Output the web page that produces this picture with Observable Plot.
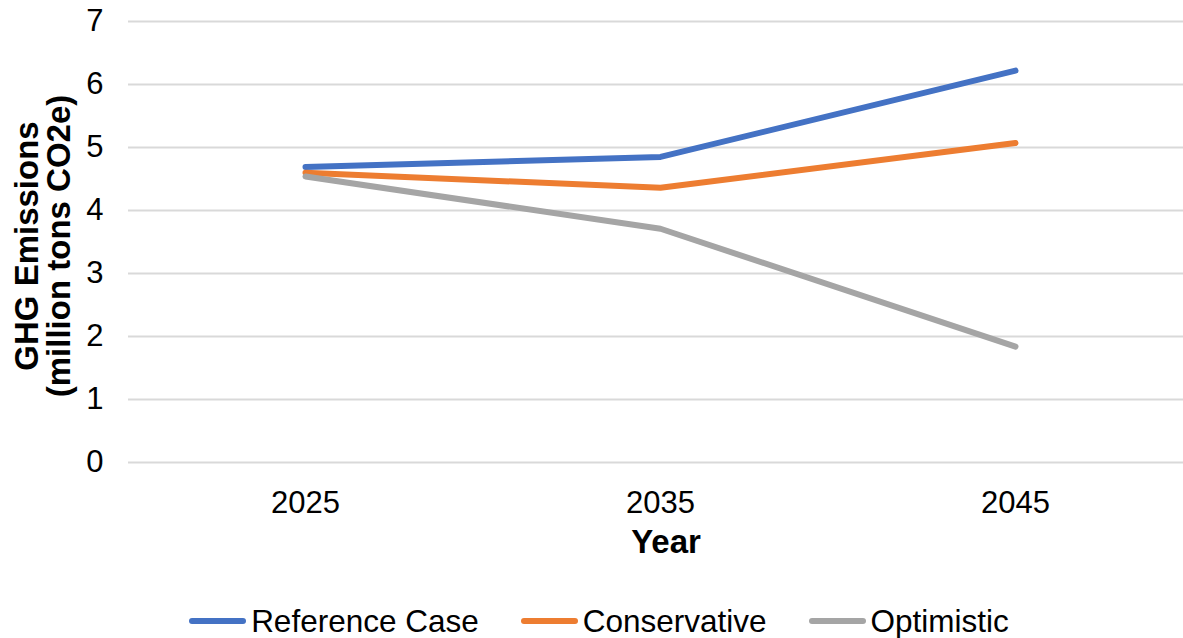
<!DOCTYPE html>
<html>
<head>
<meta charset="utf-8">
<script src="https://cdn.jsdelivr.net/npm/d3@7"></script>
<script src="https://cdn.jsdelivr.net/npm/@observablehq/plot@0.6"></script>
<style>
  html, body { margin: 0; padding: 0; background: #fff; }
  body { width: 1183px; height: 638px; overflow: hidden; font-family: "Liberation Sans", Arial, sans-serif; color: #000; }
  #chart svg { display: block; }
  .legend { display: flex; justify-content: center; align-items: center; padding-left: 15px; margin-top: 27px; height: 38px; }
  .legend .item { display: flex; align-items: center; }
  .legend .item + .item { margin-left: 42px; }
  .legend .swatch { width: 57px; height: 6px; border-radius: 3px; margin-right: 5px; }
  .legend .label { font-size: 31.5px; line-height: 38px; }
</style>
</head>
<body>
<div id="chart"></div>
<script>
// Projection years and emissions (million tons CO2e) per scenario
const years = [2025, 2035, 2045];
const seriesNames = ["Reference Case", "Conservative", "Optimistic"];
const referenceCase = [4.69, 4.85, 6.22];
const conservative = [4.60, 4.36, 5.07];
const optimistic = [4.54, 3.71, 1.84];
const yTicks = [0, 1, 2, 3, 4, 5, 6, 7];
const seriesColors = ["#4472C4", "#ED7D31", "#A5A5A5"];

const seriesValues = [referenceCase, conservative, optimistic];
const rows = seriesNames.flatMap((name, i) =>
  years.map((year, j) => ({series: name, year, value: seriesValues[i][j]}))
);

const font = "'Liberation Sans', Arial, sans-serif";

const chart = Plot.plot({
  width: 1183,
  height: 575,
  marginTop: 21,
  marginBottom: 113,
  marginLeft: 128,
  marginRight: 0,
  style: {fontFamily: font, color: "#000", background: "#fff", overflow: "visible"},
  x: {domain: [2020, 2050], range: [127.5, 1192.5]},
  y: {domain: [0, 7]},
  color: {domain: seriesNames, range: seriesColors},
  marks: [
    Plot.gridY(yTicks, {stroke: "#D9D9D9", strokeOpacity: 1, strokeWidth: 2}),
    Plot.axisY({ticks: yTicks, tickFormat: d => String(d), tickSize: 0, tickPadding: 25, fontSize: 31, label: null}),
    Plot.axisX({ticks: years, tickFormat: d => String(d), tickSize: 0, tickPadding: 28, fontSize: 31, label: null}),
    Plot.line(rows, {
      x: "year", y: "value", z: "series", stroke: "series",
      strokeWidth: 6, strokeLinecap: "round", strokeLinejoin: "round"
    }),
    // Axis titles
    Plot.text(["Year"], {
      frameAnchor: "bottom", text: d => d, dx: 10, dy: 80,
      fontSize: 33, fontWeight: "bold", lineAnchor: "middle", fill: "#000"
    }),
    Plot.text(["GHG Emissions\n(million tons CO2e)"], {
      frameAnchor: "left", text: d => d, rotate: -90, dx: -85, dy: 4,
      fontSize: 33, fontWeight: "bold", lineHeight: 0.97, lineAnchor: "middle",
      textAnchor: "middle", fill: "#000"
    })
  ]
});

document.getElementById("chart").appendChild(chart);

// Legend below the chart
const legend = document.createElement("div");
legend.className = "legend";
seriesNames.forEach((name, i) => {
  const item = document.createElement("div");
  item.className = "item";
  const sw = document.createElement("span");
  sw.className = "swatch";
  sw.style.background = seriesColors[i];
  const lb = document.createElement("span");
  lb.className = "label";
  lb.textContent = name;
  item.append(sw, lb);
  legend.appendChild(item);
});
document.body.appendChild(legend);
</script>
</body>
</html>
